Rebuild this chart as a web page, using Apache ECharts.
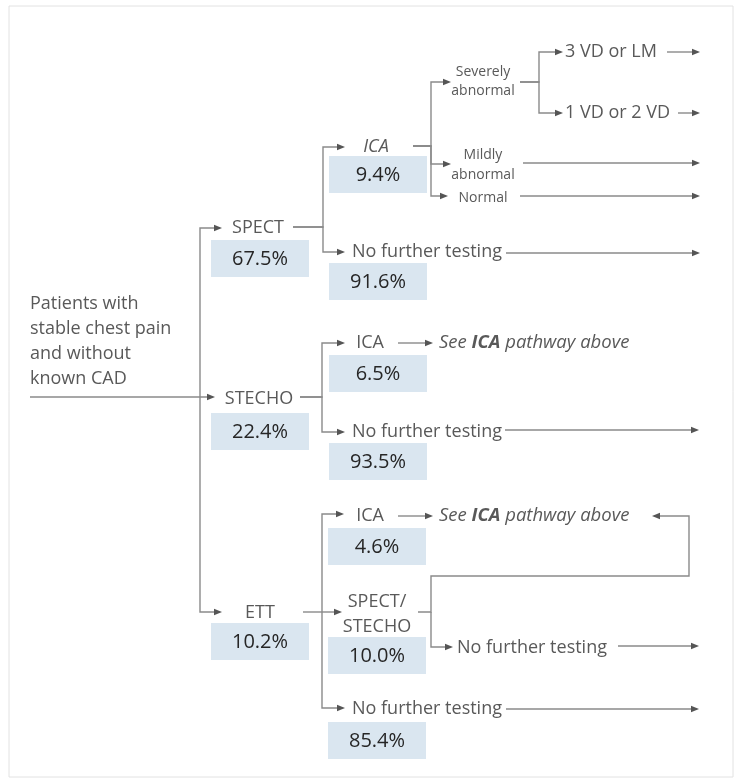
<!DOCTYPE html>
<html>
<head>
<meta charset="utf-8">
<script src="https://cdn.jsdelivr.net/npm/echarts@6/dist/echarts.min.js"></script>
<style>
  html, body { margin: 0; padding: 0; background: #fff; }
  #main { width: 735px; height: 780px; }
</style>
</head>
<body>
<div id="main"></div>
<script>
// ---- values ----
var rootLabel = 'Patients with\nstable chest pain\nand without\nknown CAD';
var testNames = ['SPECT', 'STECHO', 'ETT'];
var testShares = [67.5, 22.4, 10.2];
var spectNames = ['ICA', 'No further testing'];
var spectShares = [9.4, 91.6];
var stechoNames = ['ICA', 'No further testing'];
var stechoShares = [6.5, 93.5];
var ettNames = ['ICA', 'SPECT/\nSTECHO', 'No further testing'];
var ettShares = [4.6, 10.0, 85.4];
var icaFindings = ['Severely\nabnormal', 'Mildly\nabnormal', 'Normal'];
var severeFindings = ['3 VD or LM', '1 VD or 2 VD'];
var afterSecond = 'No further testing';

// ---- layout (units of the hidden axes, 1 unit = 1 px) ----
var FONT = '"Open Sans", "Noto Sans", sans-serif';
var TEXT = '#595959';
var DARK = '#262626';
var LINE = '#8a8a8a';
var BOX_W = 98, BOX_H = 37;

var labels = [];
var boxes = [];
var links = [];

function label(text, x, y, opt) {
  opt = opt || {};
  labels.push({
    text: text, x: x, y: y,
    align: opt.align || 'center',
    size: opt.size || 18,
    lh: opt.lh || 25,
    italic: !!opt.italic,
    rich: opt.rich
  });
}
function box(share, x, y) {
  boxes.push([x, y, share]);
}
function link(pts) {
  links.push(pts);
}
// fork from a parent exit to child arrow tips through a vertical trunk
function fork(x0, y0, xt, ends) {
  ends.forEach(function (e) {
    link([[x0, y0], [xt, y0], [xt, e[1]], [e[0], e[1]]]);
  });
}

// root
label(rootLabel, 30, 341.5, { align: 'left', lh: 25 });
link([[30, 397], [215, 397]]);
fork(200, 397, 200, [[222, 228], [222, 612]]);

// first test
var testPos = [[258, 228, 240], [259, 399, 413], [260, 613, 623]];
testNames.forEach(function (n, i) {
  label(n, testPos[i][0], testPos[i][1]);
  box(testShares[i], 211, testPos[i][2]);
});

// after SPECT
label(spectNames[0], 376, 147, { italic: true });
box(spectShares[0], 329, 156);
label(spectNames[1], 352, 252, { align: 'left' });
box(spectShares[1], 329, 263);
fork(293, 227, 323, [[345, 147], [345, 252]]);
link([[506, 253], [700, 253]]);

// ICA findings after SPECT
fork(413, 146, 431, [[451, 82], [451, 164], [448, 196]]);
label(icaFindings[0], 483, 82, { size: 14, lh: 19 });
label(icaFindings[1], 483, 165, { size: 14, lh: 20 });
label(icaFindings[2], 483, 198, { size: 14 });
fork(520, 82, 539, [[563, 52], [563, 113]]);
label(severeFindings[0], 565, 52, { align: 'left' });
label(severeFindings[1], 565, 113, { align: 'left' });
link([[667, 52], [700, 52]]);
link([[678, 113], [700, 113]]);
link([[523, 163], [700, 163]]);
link([[520, 196], [700, 196]]);

// see-above text
var seeRich = {
  i: { fontFamily: FONT, fontSize: 18.5, fontStyle: 'italic', fill: TEXT },
  b: { fontFamily: FONT, fontSize: 18.5, fontStyle: 'italic', fontWeight: 'bold', fill: TEXT }
};
var seeText = '{i|See }{b|ICA}{i| pathway above}';

// after STECHO
label(stechoNames[0], 370, 343);
box(stechoShares[0], 329, 355);
label(stechoNames[1], 352, 432, { align: 'left' });
box(stechoShares[1], 329, 443);
fork(300, 397, 322, [[345, 343], [345, 432]]);
link([[398, 343], [433, 343]]);
label(seeText, 439, 343, { align: 'left', rich: seeRich });
link([[505, 430], [699, 430]]);

// after ETT
label(ettNames[0], 370, 516);
box(ettShares[0], 328, 528);
label(ettNames[1], 377, 614);
box(ettShares[1], 328, 637);
label(ettNames[2], 352, 709, { align: 'left' });
box(ettShares[2], 328, 722);
link([[303, 612], [342, 612]]);
fork(322, 612, 322, [[344, 514], [345, 708]]);
link([[398, 516], [433, 516]]);
label(seeText, 439, 516, { align: 'left', rich: seeRich });
link([[418, 612], [431, 612], [431, 576], [689, 576], [689, 516], [652, 516]]);
link([[431, 612], [431, 647], [453, 647]]);
label(afterSecond, 457, 648, { align: 'left' });
link([[618, 646], [699, 646]]);
link([[506, 709], [699, 709]]);

function renderLink(params, api) {
  var pts = links[params.dataIndex].map(function (p) { return api.coord(p); });
  var n = pts.length;
  var tip = pts[n - 1], prev = pts[n - 2];
  var dx = tip[0] - prev[0], dy = tip[1] - prev[1];
  var len = Math.sqrt(dx * dx + dy * dy);
  dx /= len; dy /= len;
  var L = 8, W = 3.3;
  var bx = tip[0] - dx * L, by = tip[1] - dy * L;
  var linePts = pts.slice(0, n - 1).concat([[bx + dx, by + dy]]);
  return {
    type: 'group',
    children: [
      { type: 'polyline', shape: { points: linePts }, style: { stroke: LINE, lineWidth: 1.4, fill: null } },
      { type: 'polygon', shape: { points: [tip, [bx - dy * W, by + dx * W], [bx + dy * W, by - dx * W]] }, style: { fill: '#555' } }
    ]
  };
}

function renderBox(params, api) {
  var p0 = api.coord([api.value(0), api.value(1)]);
  var p1 = api.coord([api.value(0) + BOX_W, api.value(1) + BOX_H]);
  return {
    type: 'group',
    children: [
      { type: 'rect', shape: { x: p0[0], y: p0[1], width: p1[0] - p0[0], height: p1[1] - p0[1] }, style: { fill: '#dae6f0' } },
      { type: 'text', x: (p0[0] + p1[0]) / 2, y: (p0[1] + p1[1]) / 2 + 1,
        style: { text: api.value(2).toFixed(1) + '%', fontFamily: FONT, fontSize: 20, fill: DARK, align: 'center', verticalAlign: 'middle' } }
    ]
  };
}

function renderLabel(params, api) {
  var d = labels[params.dataIndex];
  var p = api.coord([d.x, d.y]);
  return {
    type: 'text',
    x: p[0],
    y: p[1],
    style: {
      text: d.text,
      fontFamily: FONT,
      fontSize: d.size,
      fontStyle: d.italic ? 'italic' : 'normal',
      fill: TEXT,
      align: d.align,
      verticalAlign: 'middle',
      lineHeight: d.lh,
      rich: d.rich
    }
  };
}

var chart = echarts.init(document.getElementById('main'), null, { renderer: 'canvas' });
chart.setOption({
  animation: false,
  grid: { left: 9, top: 6, width: 724, height: 771, show: true, borderColor: '#e2e2e2', borderWidth: 1, backgroundColor: 'transparent' },
  xAxis: { type: 'value', min: 9, max: 733, show: false },
  yAxis: { type: 'value', min: 6, max: 777, inverse: true, show: false },
  series: [
    { type: 'custom', name: 'links', renderItem: renderLink, data: links.map(function (p, i) { return [i]; }), silent: true },
    { type: 'custom', name: 'shares', renderItem: renderBox, data: boxes, silent: true },
    { type: 'custom', name: 'labels', renderItem: renderLabel, data: labels.map(function (l, i) { return [i]; }), silent: true }
  ]
});
</script>
</body>
</html>
